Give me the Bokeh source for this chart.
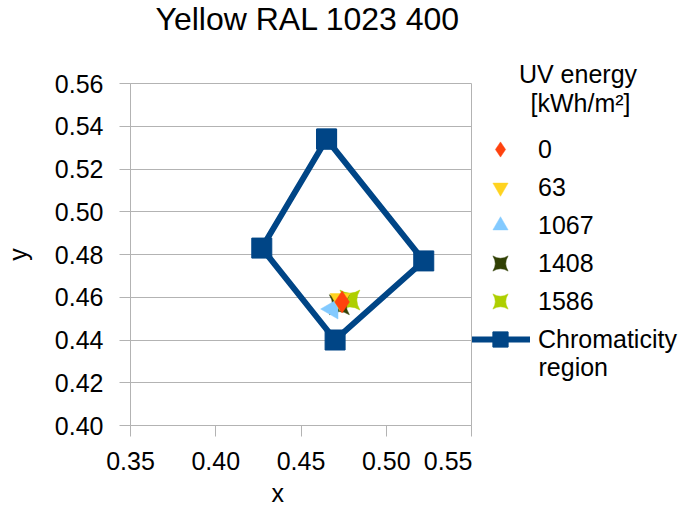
import math
from bokeh.plotting import figure
from bokeh.layouts import row
from bokeh.models import (Legend, LegendItem, FixedTicker, Label, Title,
                          PrintfTickFormatter, Range1d)
from bokeh.embed import file_html
from bokeh.resources import INLINE

# ---------------- data ----------------
title_text = "Yellow RAL 1023 400"
x_label = "x"
y_label = "y"
legend_title_lines = ["UV energy", "[kWh/m²]"]

uv_energy = ["0", "63", "1067", "1408", "1586"]
point_x = [0.4741, 0.4729, 0.4683, 0.4725, 0.4787]
point_y = [0.4578, 0.4590, 0.4545, 0.4565, 0.4587]

region_name_lines = ["Chromaticity", "region"]
region_x = [0.465, 0.427, 0.470, 0.522, 0.465]
region_y = [0.534, 0.483, 0.440, 0.477, 0.534]

x_ticks = [0.35, 0.40, 0.45, 0.50, 0.55]
y_ticks = [0.40, 0.42, 0.44, 0.46, 0.48, 0.50, 0.52, 0.54, 0.56]

# ---------------- styles ----------------
FONT = "Liberation Sans"
GRID = "#b3b3b3"
REGION_COLOR = "#004586"
point_colors = ["#ff420e", "#ffd320", "#83caff", "#314004", "#aecf00"]
point_markers = ["diamond", "inverted_triangle", "triangle", "square_pin", "square_pin"]
point_angles = [0.0, 0.0, math.pi / 2, 0.0, math.pi / 2]
point_sizes = [22, 20, 20, 20, 20]

H = 514

# ---------------- main chart ----------------
p = figure(width=472, height=H,
           x_range=Range1d(x_ticks[0], x_ticks[-1]),
           y_range=Range1d(y_ticks[0], y_ticks[-1]),
           output_backend="svg", toolbar_location=None,
           min_border_left=126, min_border_right=1,
           min_border_top=83, min_border_bottom=88)
p.background_fill_color = "white"
p.border_fill_color = "white"
p.outline_line_color = GRID
p.outline_line_width = 1

p.title.text = title_text
p.title.align = "left"
p.title.offset = 25
p.title.vertical_align = "top"
p.title.standoff = 0
p.title.text_font = FONT
p.title.text_font_size = "32px"
p.title.text_font_style = "normal"
p.title.text_color = "black"
# blank spacer between the title and the plot area
p.add_layout(Title(text="\u00a0", standoff=29, text_font=FONT,
                   text_font_size="12px"), "above")

p.xgrid.visible = False
p.ygrid.ticker = FixedTicker(ticks=y_ticks)
p.ygrid.grid_line_color = GRID
p.ygrid.grid_line_width = 1

for ax, ticks in ((p.xaxis, x_ticks), (p.yaxis, y_ticks)):
    ax.ticker = FixedTicker(ticks=ticks)
    ax.formatter = PrintfTickFormatter(format="%.2f")
    ax.axis_line_color = GRID
    ax.major_tick_line_color = GRID
    ax.major_tick_in = 0
    ax.major_tick_out = 11
    ax.minor_tick_line_color = None
    ax.major_label_text_font = FONT
    ax.major_label_text_font_size = "25px"
    ax.major_label_text_color = "black"
    ax.axis_label_text_font = FONT
    ax.axis_label_text_font_size = "25px"
    ax.axis_label_text_font_style = "normal"
    ax.axis_label_text_color = "black"
p.xaxis.major_label_standoff = 15
p.yaxis.major_label_standoff = 16
p.yaxis.axis_label = y_label
p.yaxis.axis_label_standoff = 20

# x axis title below the tick labels
p.add_layout(Title(text=x_label, align="left", offset=141, vertical_align="top",
                   standoff=12, text_font=FONT, text_font_size="25px",
                   text_font_style="normal", text_color="black"), "below")

# chromaticity region
p.line(region_x, region_y, line_width=6, line_color=REGION_COLOR,
       line_join="miter")
p.scatter(region_x, region_y, marker="square", size=20,
          fill_color=REGION_COLOR, line_color=REGION_COLOR)

# measured points (drawn last series first so that "0" is on top)
for i in reversed(range(len(uv_energy))):
    p.scatter(x=[point_x[i]], y=[point_y[i]], marker=point_markers[i],
              size=point_sizes[i], angle=point_angles[i],
              fill_color=point_colors[i], line_color=point_colors[i],
              line_width=0.5)

# ---------------- legend panel ----------------
lf = figure(width=211, height=H, x_range=Range1d(0, 1), y_range=Range1d(0, 1),
            output_backend="svg", toolbar_location=None,
            x_axis_location=None, y_axis_location=None,
            min_border_left=0, min_border_right=0,
            min_border_top=0, min_border_bottom=0)
lf.grid.visible = False
lf.outline_line_color = None
lf.background_fill_color = "white"
lf.border_fill_color = "white"

lf.title.text = legend_title_lines[0]
lf.title.align = "center"
lf.title.vertical_align = "bottom"
lf.title.standoff = -9
lf.title.text_font = FONT
lf.title.text_font_size = "25px"
lf.title.text_font_style = "normal"
lf.title.text_color = "black"

# legend keys: same series styles, the renderers themselves are hidden here
key_renderers = []
for i in range(len(uv_energy)):
    key_renderers.append(lf.scatter(
        x=[point_x[i]], y=[point_y[i]], marker=point_markers[i],
        size=point_sizes[i], fill_color=point_colors[i],
        line_color=point_colors[i], line_width=0.5, visible=False))
key_line = lf.line(region_x, region_y, line_width=6, line_color=REGION_COLOR,
                   visible=False)
key_pts = lf.scatter(region_x, region_y, marker="square", size=20,
                     fill_color=REGION_COLOR, line_color=REGION_COLOR,
                     visible=False)

items = [LegendItem(label=uv_energy[i], renderers=[key_renderers[i]])
         for i in range(len(uv_energy))]
items.append(LegendItem(label=region_name_lines[0], renderers=[key_line, key_pts]))

LEG_X = -2
GLYPH_W = 60
STANDOFF = 8
legend = Legend(items=items, location=(LEG_X, 67), ncols=1,
                padding=0, margin=0, spacing=0,
                glyph_width=GLYPH_W, glyph_height=38, label_standoff=STANDOFF,
                label_text_font=FONT, label_text_font_size="25px",
                label_text_color="black", click_policy="none",
                border_line_alpha=0, background_fill_alpha=0)
lf.add_layout(legend, "center")

def lf_label(text, x, y, align):
    lf.add_layout(Label(text=text, x=x, y=y, x_units="screen", y_units="screen",
                        text_font=FONT, text_font_size="25px", text_color="black",
                        text_align=align, text_baseline="middle"))

lf_label(legend_title_lines[1], 108, 426 - 103, "center")
lf_label(region_name_lines[1], LEG_X + GLYPH_W + STANDOFF, 426 - 367, "left")

open("out.html", "w").write(file_html(row(p, lf), INLINE))
